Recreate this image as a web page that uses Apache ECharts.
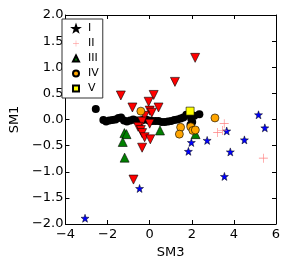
<!DOCTYPE html>
<html><head><meta charset="utf-8">
<script src="https://cdn.jsdelivr.net/npm/echarts@6/dist/echarts.min.js"></script>
<style>html,body{margin:0;padding:0;background:#fff}#c{width:288px;height:266px}</style>
</head><body><div id="c"></div>
<script>
const xTicks = [-4, -2, 0, 2, 4, 6];
const yTicks = [-2.0, -1.5, -1.0, -0.5, 0.0, 0.5, 1.0, 1.5, 2.0];
const legendNames = ['I', 'II', 'III', 'IV', 'V'];

const pointsI = [[-3.07,-1.89],[-0.48,-1.32],[1.98,-0.44],[1.84,-0.61],[2.73,-0.40],[3.66,-0.22],[3.55,-1.09],[3.83,-0.62],[4.5,-0.39],[5.17,0.09],[5.47,-0.16]];
const pointsII = [[3.54,-0.08],[3.23,-0.25],[3.46,-0.21],[5.4,-0.74]];
const pointsIII = [[-1.2,-0.26],[-1.1,-0.28],[-1.28,-0.43],[-1.19,-0.73],[0.49,-0.21],[2.18,-0.28]];
const pointsIV = [[-0.42,0.16],[1.47,-0.15],[1.41,-0.28],[1.95,-0.14],[2.05,-0.21],[2.17,-0.2],[3.1,0.03]];
const pointsV = [[1.92,0.16]];
const pointsRed = [[-1.37,0.46],[-0.82,0.23],[2.16,1.18],[1.2,0.72],[0.19,0.47],[-0.05,0.34],[0.42,0.23],[0.0,0.17],[0.1,0.13],[-0.24,0.07],[-0.36,-0.04],[0.0,-0.08],[-0.55,-0.14],[-0.42,-0.2],[-0.36,-0.26],[-0.24,-0.34],[0.03,-0.38],[-0.36,-0.54],[-0.77,-1.15]];
const pointsBlack = [[-2.56,0.2],[-2.2,-0.01],[-2.07,-0.04],[-1.92,-0.02],[-1.77,-0.01],[-1.62,0.0],[-1.48,0.03],[-1.36,0.04],[-1.22,-0.02],[-1.08,-0.04],[-0.93,-0.02],[-0.78,0.0],[-0.63,-0.02],[-0.48,-0.02],[-0.33,-0.01],[-0.18,0.0],[-0.03,-0.02],[0.12,-0.03],[0.27,-0.03],[0.42,-0.03],[0.57,-0.05],[0.72,-0.05],[0.87,-0.04],[1.02,-0.03],[1.17,-0.01],[1.32,0.0],[1.47,0.02],[1.6,0.04],[1.74,0.09],[1.97,0.02],[2.02,-0.05],[1.94,-0.1],[2.12,0.07],[2.36,0.1]];

const STAR = 'path://M0,-10L2.35,-3.24L9.51,-3.09L3.8,1.24L5.88,8.09L0,4.2L-5.88,8.09L-3.8,1.24L-9.51,-3.09L-2.35,-3.24Z';
const PLUS = 'path://M-0.7,-10H0.7V-0.7H10V0.7H0.7V10H-0.7V0.7H-10V-0.7H-0.7Z';
const fmt = v => String(v).replace('-', '\u2212');
const fmtY = v => Number(v).toFixed(1).replace('-', '\u2212');
const font = 'DejaVu Sans';

const chart = echarts.init(document.getElementById('c'), null, {renderer: 'canvas'});
const axisCommon = {
  axisLine: {show: true, onZero: false, lineStyle: {color: '#000', width: 1}},
  axisTick: {show: true, inside: true, length: 4, lineStyle: {color: '#000'}},
  splitLine: {show: false}
};
chart.setOption({
  animation: false,
  grid: {left: 58, right: 12, top: 15, bottom: 42, show: false},
  xAxis: [
    Object.assign({type: 'value', min: xTicks[0], max: xTicks[xTicks.length-1], interval: 2, position: 'bottom',
      name: 'SM3', nameLocation: 'middle', nameGap: 20, nameTextStyle: {fontFamily: font, fontSize: 13, color: '#000'},
      axisLabel: {formatter: fmt, fontFamily: font, fontSize: 13, color: '#000', margin: 4}}, axisCommon),
    Object.assign({type: 'value', min: xTicks[0], max: xTicks[xTicks.length-1], interval: 2, position: 'top',
      axisLabel: {show: false}}, axisCommon)
  ],
  yAxis: [
    Object.assign({type: 'value', min: yTicks[0], max: yTicks[yTicks.length-1], interval: 0.5, position: 'left',
      name: 'SM1', nameLocation: 'middle', nameGap: 38, nameTextStyle: {fontFamily: font, fontSize: 13, color: '#000'},
      axisLabel: {formatter: fmtY, fontFamily: font, fontSize: 13, color: '#000', margin: 2}}, axisCommon),
    Object.assign({type: 'value', min: yTicks[0], max: yTicks[yTicks.length-1], interval: 0.5, position: 'right',
      axisLabel: {show: false}}, axisCommon)
  ],
  legend: {
    orient: 'vertical', left: 62, top: 19, padding: [4, 4, 4, 10],
    borderColor: '#333', borderWidth: 1, backgroundColor: '#fff',
    itemWidth: 6, itemHeight: 6, itemGap: 4,
    symbolKeepAspect: true,
    textStyle: {fontFamily: font, fontSize: 11, color: '#000', lineHeight: 9, padding: [0, 0, 0, 4]},
    data: [
      {name: legendNames[0], icon: STAR},
      {name: legendNames[1], icon: PLUS},
      {name: legendNames[2], icon: 'triangle'},
      {name: legendNames[3], icon: 'circle'},
      {name: legendNames[4], icon: 'rect'}
    ]
  },
  series: [
    {name: 'black', type: 'scatter', data: pointsBlack, symbol: 'circle', symbolSize: 8,
      itemStyle: {color: '#000', opacity: 1}},
    {name: 'red', type: 'scatter', data: pointsRed, symbol: 'triangle', symbolRotate: 180, symbolSize: 9,
      itemStyle: {color: '#ff0000', borderColor: '#000', borderWidth: 0.6, opacity: 1}},
    {name: legendNames[0], type: 'scatter', data: pointsI, symbol: STAR, symbolSize: 8,
      itemStyle: {color: '#0000ff', borderColor: '#000', borderWidth: 0.5, opacity: 1}},
    {name: legendNames[1], type: 'scatter', data: pointsII, symbol: PLUS, symbolSize: 9,
      itemStyle: {color: '#ff8080', opacity: 1}},
    {name: legendNames[2], type: 'scatter', data: pointsIII, symbol: 'triangle', symbolSize: 9,
      itemStyle: {color: '#008000', borderColor: '#000', borderWidth: 0.6, opacity: 1}},
    {name: legendNames[3], type: 'scatter', data: pointsIV, symbol: 'circle', symbolSize: 8,
      itemStyle: {color: '#ffa500', borderColor: '#000', borderWidth: 0.6, opacity: 1}},
    {name: legendNames[4], type: 'scatter', data: pointsV, symbol: 'rect', symbolSize: 8,
      itemStyle: {color: '#ffff00', borderColor: '#000', borderWidth: 0.6, opacity: 1}}
  ]
});
</script></body></html>
